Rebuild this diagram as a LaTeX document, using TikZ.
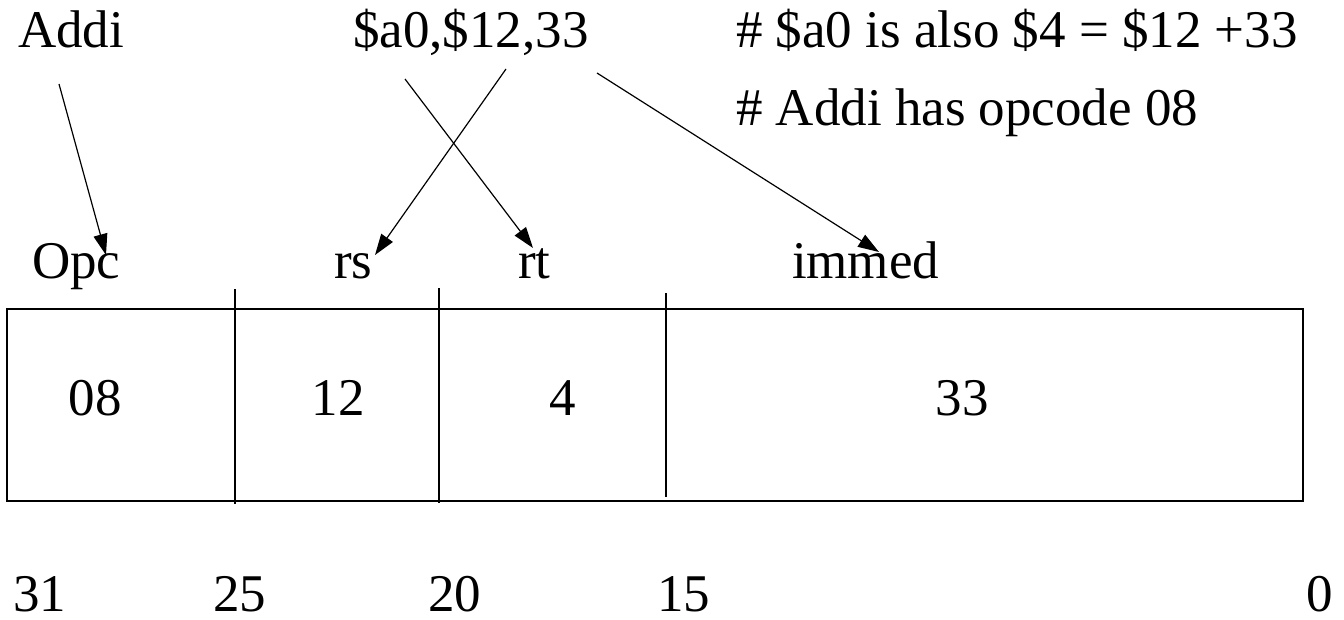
\documentclass[tikz,border=0pt]{standalone}
\usepackage{fontspec}
\setmainfont{Liberation Serif}
\usetikzlibrary{arrows.meta}
\begin{document}
\begin{tikzpicture}[x=1pt,y=-1pt,
  txt/.style={anchor=base west,inner sep=0pt,outer sep=0pt,font=\fontsize{53}{60}\selectfont},
  ctxt/.style={anchor=base,inner sep=0pt,outer sep=0pt,font=\fontsize{53}{60}\selectfont},
  arr/.style={line width=1.2pt,-{Triangle[length=21pt,width=14pt]}},
  boxline/.style={line width=2pt},
  divider/.style={line width=1.8pt}]
\useasboundingbox (0,0) rectangle (1344,619);
% top texts
\node[txt] (addi) at (18,47) {Addi};
\node[txt] (args) at (353,47) {\$a0,\$12,33};
\node[txt] (c1) at (736,47) {\# \$a0 is also \$4 = \$12 +33};
\node[txt] (c2) at (736,125) {\# Addi has opcode 08};
% field labels
\node[txt] (opc) at (32,278) {Opc};
\node[txt] (rs) at (334,278) {rs};
\node[txt] (rt) at (518,278) {rt};
\node[txt] (immed) at (792,278) {immed};
% box
\draw[boxline] (7,309) rectangle (1303,501);
\draw[divider] (235,289) -- (235,504);
\draw[divider] (439,288) -- (439,503);
\draw[divider] (666,293) -- (666,497);
% cell values
\node[ctxt] (v1) at (95,415) {08};
\node[ctxt] (v2) at (338,415) {12};
\node[ctxt] (v3) at (563,415) {4};
\node[ctxt] (v4) at (962,415) {33};
% bit numbers
\node[txt] (b31) at (13,611) {31};
\node[txt] (b25) at (213,611) {25};
\node[txt] (b20) at (428,611) {20};
\node[txt] (b15) at (657,611) {15};
\node[txt] (b0) at (1306,611) {0};
% arrows
\coordinate (addiS) at (59,84);
\coordinate (opcT) at (106,255);
\coordinate (rsS) at (506,69);
\coordinate (rsT) at (375,255);
\coordinate (rtS) at (405,79);
\coordinate (rtT) at (533,248);
\coordinate (imS) at (597,73);
\coordinate (imT) at (879,252);
\draw[arr] (addiS) -- (opcT);
\draw[arr] (rsS) -- (rsT);
\draw[arr] (rtS) -- (rtT);
\draw[arr] (imS) -- (imT);
\end{tikzpicture}
\end{document}
